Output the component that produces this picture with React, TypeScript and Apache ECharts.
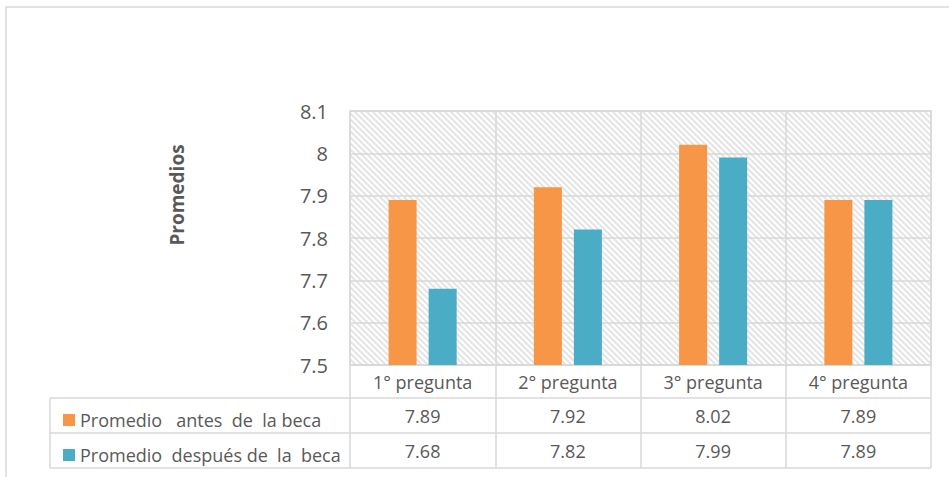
import React, { useEffect, useRef } from "react";
import * as echarts from "echarts";

const categories = ["1° pregunta", "2° pregunta", "3° pregunta", "4° pregunta"];
const seriesNames = ["Promedio   antes  de  la beca", "Promedio  después de  la  beca"];
const before = [7.89, 7.92, 8.02, 7.89];
const after = [7.68, 7.82, 7.99, 7.89];
const yMin = 7.5;
const yMax = 8.1;
const yStep = 0.1;
const yTitle = "Promedios";

const FONT = "'Open Sans', 'Liberation Sans', sans-serif";
const TEXT = "#595959";
const LINE = "#d9d9d9";

export default function App() {
  const ref = useRef<HTMLDivElement>(null);
  useEffect(() => {
    if (!ref.current) return;
    const chart = echarts.init(ref.current, undefined, { renderer: "svg" });
    const gridLeft = 350, gridRight = 931, gridTop = 111, gridBottom = 365;
    const rowA = 398, rowB = 433, rowC = 468, tableLeft = 50;
    const option: any = {
      animation: false,
      textStyle: { fontFamily: FONT },
      grid: {
        left: gridLeft,
        right: 949 - gridRight,
        top: gridTop,
        bottom: 477 - gridBottom,
        show: true,
        borderColor: LINE,
        borderWidth: 1.5,
        backgroundColor: "transparent",
      },
      legend: {
        orient: "vertical",
        left: 58,
        top: 405,
        itemWidth: 12,
        itemHeight: 12,
        itemGap: 15,
        icon: "rect",
        selectedMode: false,
        data: seriesNames,
        textStyle: { fontSize: 18, color: TEXT, fontFamily: FONT, lineHeight: 20 },
      },
      xAxis: {
        type: "category",
        data: categories,
        axisLine: { show: true, lineStyle: { color: LINE, width: 1.5 } },
        axisTick: { show: true, interval: 0, length: rowC - gridBottom, lineStyle: { color: LINE, width: 1.5 } },
        splitLine: { show: true, interval: 0, lineStyle: { color: LINE, width: 1.5 } },
        axisLabel: {
          interval: 0,
          margin: 0,
          formatter: (v: string, i: number) =>
            `{h|${v}}\n{a|${before[i].toFixed(2)}}\n{b|${after[i].toFixed(2)}}`,
          rich: {
            h: { fontSize: 18, color: TEXT, fontFamily: FONT, lineHeight: rowA - gridBottom, align: "center" },
            a: { fontSize: 18, color: TEXT, fontFamily: FONT, lineHeight: rowB - rowA, align: "center" },
            b: { fontSize: 18, color: TEXT, fontFamily: FONT, lineHeight: rowC - rowB, align: "center" },
          },
        },
      },
      yAxis: {
        type: "value",
        min: yMin,
        max: yMax,
        interval: yStep,
        axisLine: { show: false },
        axisTick: { show: false },
        splitLine: { show: true, lineStyle: { color: LINE, width: 1.5 } },
        axisLabel: { fontSize: 20, color: TEXT, fontFamily: FONT, margin: 22 },
      },
      series: [
        {
          type: "custom",
          silent: true,
          z: -1,
          data: [0],
          renderItem: (params: any) => {
            const cs = params.coordSys;
            const x = cs.x, y = cs.y, w = cs.width, h = cs.height;
            const children: any[] = [];
            for (let c = -h; c < w; c += 6) {
              let x0 = x + c, y0 = y;
              if (x0 < x) { y0 = y + (x - x0); x0 = x; }
              let x1 = x + c + h, y1 = y + h;
              if (x1 > x + w) { y1 = y + h - (x1 - (x + w)); x1 = x + w; }
              if (y1 <= y0) continue;
              children.push({
                type: "line",
                shape: { x1: x0, y1: y0, x2: x1, y2: y1 },
                style: { stroke: "#e4e4e4", lineWidth: 2 },
              });
            }
            return { type: "group", children };
          },
        },
        {
          name: seriesNames[0],
          type: "bar",
          data: before,
          barWidth: 28,
          barGap: "43%",
          itemStyle: { color: "#F79646" },
        },
        {
          name: seriesNames[1],
          type: "bar",
          data: after,
          barWidth: 28,
          itemStyle: { color: "#4BACC6" },
        },
      ],
      graphic: [
        {
          type: "rect",
          silent: true,
          shape: { x: 6, y: 7, width: 1200, height: 1200 },
          style: { fill: "none", stroke: LINE, lineWidth: 1.5 },
        },
        ...[rowA, rowB, rowC].map((yy) => ({
          type: "line",
          silent: true,
          shape: { x1: tableLeft, y1: yy, x2: gridRight, y2: yy },
          style: { stroke: LINE, lineWidth: 1.5 },
        })),
        {
          type: "line",
          silent: true,
          shape: { x1: tableLeft, y1: rowA, x2: tableLeft, y2: rowC },
          style: { stroke: LINE, lineWidth: 1.5 },
        },
        {
          type: "text",
          x: 177,
          y: 195,
          rotation: Math.PI / 2,
          style: {
            text: yTitle,
            fontSize: 19,
            fontWeight: "bold",
            fill: TEXT,
            fontFamily: FONT,
            align: "center",
            verticalAlign: "middle",
          },
        },
      ],
    };
    chart.setOption(option);
    return () => chart.dispose();
  }, []);
  return (
    <div
      ref={ref}
      style={{ position: "absolute", left: 0, top: 0, width: 949, height: 477, background: "#fff" }}
    />
  );
}
